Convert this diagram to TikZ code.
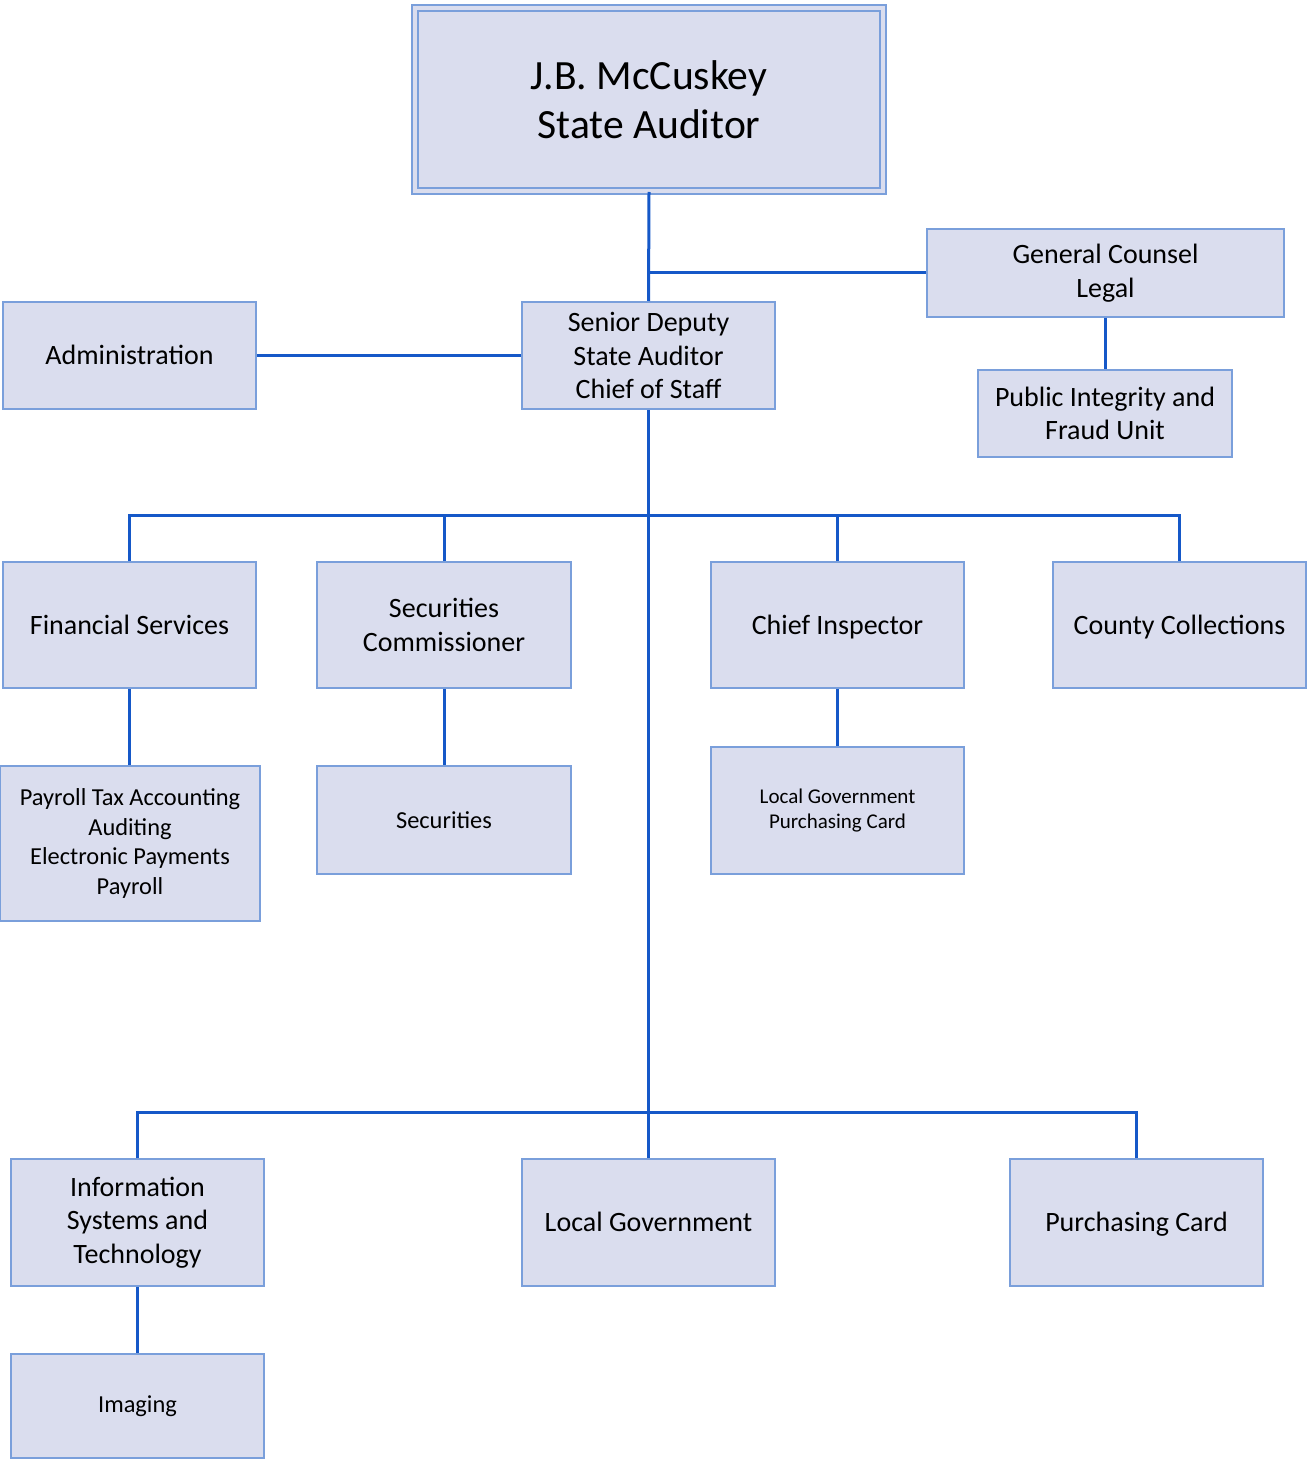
\documentclass[tikz,border=0pt]{standalone}
\usepackage{fontspec}
\setmainfont{Carlito}
\usetikzlibrary{shadows}
\definecolor{boxfill}{HTML}{DADDEE}
\definecolor{boxline}{HTML}{7A9FDB}
\definecolor{linkblue}{HTML}{1558C8}
\begin{document}
\begin{tikzpicture}[x=0.5pt,y=-0.5pt,
    unit/.style={draw=boxline,fill=boxfill,line width=1pt,align=center,inner sep=0pt,
        font=\fontsize{14}{16.8}\selectfont},
    small/.style={font=\fontsize{12.2}{14.7}\selectfont},
    tiny/.style={font=\fontsize{10.5}{12.5}\selectfont},
    oneline/.style={text height=11.5pt,text depth=2.5pt},
    link/.style={draw=linkblue,line width=1.5pt}]
				\useasboundingbox (0,0) rectangle (1307,1460);
				\node[unit,double=boxfill,double distance=2pt,minimum width=234pt,minimum height=91.5pt,
				      font=\fontsize{20.8}{24.5}\selectfont,
				      drop shadow={shadow xshift=1.5pt,shadow yshift=-2pt,opacity=0.4}] (top) at (649,99.5) {J.B. McCuskey\\State Auditor};
				\node[unit,minimum width=178.5pt,minimum height=44pt] (counsel) at (1105.5,273) {General Counsel\\Legal};
				\node[unit,minimum width=127pt,minimum height=43.5pt] (fraud) at (1105,413.5) {Public Integrity and\\Fraud Unit};
				\node[unit,oneline,minimum width=126.5pt,minimum height=53.5pt] (admin) at (129.5,355.5) {Administration};
				\node[unit,minimum width=126.5pt,minimum height=53.5pt] (deputy) at (648.5,355.5) {Senior Deputy\\State Auditor\\Chief of Staff};
				
				\node[unit,oneline,minimum width=126.5pt,minimum height=63pt] (finance) at (129.5,625) {Financial Services};
				\node[unit,minimum width=127pt,minimum height=63pt] (seccom) at (444,625) {Securities\\Commissioner};
				\node[unit,oneline,minimum width=126.5pt,minimum height=63pt] (inspector) at (837.5,625) {Chief Inspector};
				\node[unit,oneline,minimum width=126.5pt,minimum height=63pt] (county) at (1179.5,625) {County Collections};
				
				\node[unit,small,minimum width=130pt,minimum height=77.5pt] (payroll) at (130,843.5) {Payroll Tax Accounting\\Auditing\\Electronic Payments\\Payroll};
				\node[unit,small,minimum width=127pt,minimum height=54pt] (securities) at (444,820) {Securities};
				\node[unit,tiny,minimum width=126.5pt,minimum height=63.5pt] (lgpc) at (837.5,810.5) {Local Government\\Purchasing Card};
				
				\node[unit,minimum width=126.5pt,minimum height=63.5pt] (ist) at (137.5,1222.5) {Information\\Systems and\\Technology};
				\node[unit,oneline,minimum width=126.5pt,minimum height=63.5pt] (localgov) at (648.5,1222.5) {Local Government};
				\node[unit,oneline,minimum width=126.5pt,minimum height=63.5pt] (pcard) at (1136.5,1222.5) {Purchasing Card};
				\node[unit,small,minimum width=126.5pt,minimum height=52pt] (imaging) at (137.5,1406) {Imaging};
				
				\coordinate (bus1) at (649,515);
				\coordinate (bus2) at (649,1112);
				
				\path[link] (top.south) -- (deputy.north);
				\path[link] (counsel.west) -- (counsel.west -| top.south);
				\path[link] (counsel.south) -- (counsel.south |- fraud.north);
				\path[link] (admin.east) -- (deputy.west);
				\path[link] (deputy.south) -- (localgov.north);
				\foreach \n in {finance,seccom,inspector,county}
				  \path[link] (\n.north) |- (bus1);
				\foreach \n in {ist,pcard}
				  \path[link] (\n.north) |- (bus2);
				\path[link] (finance.south) -- (finance.south |- payroll.north);
				\path[link] (seccom) -- (securities);
				\path[link] (inspector) -- (lgpc);
				\path[link] (ist) -- (imaging);
			\end{tikzpicture}
\end{document}
